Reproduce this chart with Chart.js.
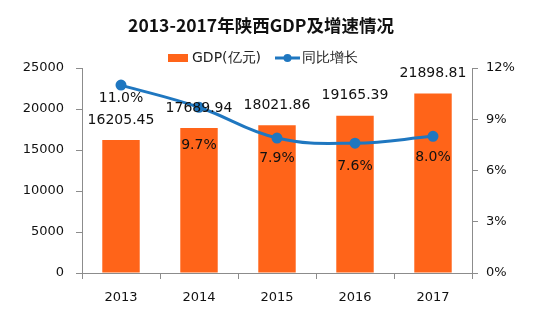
<!DOCTYPE html>
<html>
<head>
<meta charset="utf-8">
<script src="https://cdn.jsdelivr.net/npm/chart.js@4"></script>
<style>
  html, body { margin: 0; padding: 0; background: #fff; }
  #wrap { width: 540px; height: 330px; }
</style>
</head>
<body>
<div id="wrap"><canvas id="myChart" width="540" height="330"></canvas></div>
<script>
// data
const years = ["2013", "2014", "2015", "2016", "2017"];
const gdp = [16205.45, 17689.94, 18021.86, 19165.39, 21898.81];
const growth = [11.0, 9.7, 7.9, 7.6, 8.0];
const leftTicks = [0, 5000, 10000, 15000, 20000, 25000];
const rightTicks = [0, 3, 6, 9, 12];

const orange = '#ff6419';
const blue = '#1f77c0';
const axisGray = '#8c8c8c';
const font = "'DejaVu Sans', sans-serif";

// value labels over bars and under line points
const valueLabels = {
    id: 'valueLabels',
    afterDatasetsDraw(chart, args, opts) {
        const ctx = chart.ctx;
        ctx.save();
        ctx.font = '14px ' + font;
        ctx.fillStyle = '#111';
        ctx.textAlign = 'center';
        ctx.textBaseline = 'middle';
        chart.getDatasetMeta(0).data.forEach((bar, i) => {
            ctx.fillText(gdp[i].toFixed(2), bar.x, bar.y - 20);
        });
        chart.getDatasetMeta(1).data.forEach((pt, i) => {
            ctx.fillText(growth[i].toFixed(1) + '%', pt.x, pt.y + opts.lineOffsets[i]);
        });
        ctx.restore();
    }
};

// legend drawn by hand so it can sit right above the plot
const simpleLegend = {
    id: 'simpleLegend',
    afterDraw(chart, args, opts) {
        const ctx = chart.ctx;
        const ds = chart.data.datasets;
        const y = opts.y;
        let x = opts.x;
        ctx.save();
        ctx.font = '14px ' + font;
        ctx.textBaseline = 'middle';
        ctx.textAlign = 'left';
        // bar item
        ctx.fillStyle = ds[0].backgroundColor;
        ctx.fillRect(x, y - 4, 20, 8);
        ctx.fillStyle = '#222';
        ctx.fillText(ds[0].label, x + 24, y);
        x += 24 + ctx.measureText(ds[0].label).width + 14;
        // line item
        ctx.strokeStyle = ds[1].borderColor;
        ctx.lineWidth = 3;
        ctx.beginPath(); ctx.moveTo(x, y); ctx.lineTo(x + 25, y); ctx.stroke();
        ctx.fillStyle = ds[1].borderColor;
        ctx.beginPath(); ctx.arc(x + 12.5, y, 4, 0, Math.PI * 2); ctx.fill();
        ctx.fillStyle = '#222';
        ctx.fillText(ds[1].label, x + 27, y);
        ctx.restore();
    }
};

const ctx = document.getElementById('myChart').getContext('2d');
const myChart = new Chart(ctx, {
    type: 'bar',
    data: {
        labels: years,
        datasets: [
            {
                type: 'bar',
                label: 'GDP(亿元)',
                data: gdp,
                backgroundColor: orange,
                yAxisID: 'y',
                barPercentage: 0.48,
                categoryPercentage: 1,
                order: 1
            },
            {
                type: 'line',
                label: '同比增长',
                data: growth,
                borderColor: blue,
                backgroundColor: blue,
                borderWidth: 3,
                pointRadius: 4,
                pointHoverRadius: 4,
                tension: 0.4,
                yAxisID: 'y1',
                order: 0
            }
        ]
    },
    options: {
        responsive: false,
        animation: false,
        // right padding nudges the centred title left like the original
        layout: { padding: { top: 0, bottom: 2, right: 18 } },
        plugins: {
            title: {
                display: true,
                text: '2013-2017年陕西GDP及增速情况',
                color: '#111',
                font: { family: "'Noto Sans CJK SC', sans-serif", size: 17.5, weight: 'bold' },
                padding: { top: 15, bottom: 32 }
            },
            legend: { display: false },
            tooltip: { enabled: false },
            valueLabels: { lineOffsets: [13, 38, 20, 23, 21] },
            simpleLegend: { x: 168, y: 58 }
        },
        scales: {
            x: {
                grid: { drawOnChartArea: false, color: axisGray, tickLength: 6, offset: true },
                border: { color: axisGray, width: 1 },
                ticks: { color: '#111', font: { family: font, size: 13 }, padding: 11 },
                afterFit: (axis) => { axis.height = 55; }
            },
            y: {
                position: 'left',
                min: 0,
                max: 25000,
                afterBuildTicks: (axis) => { axis.ticks = leftTicks.map(v => ({ value: v })); },
                grid: { drawOnChartArea: false, color: axisGray, tickLength: 6 },
                border: { color: axisGray, width: 1 },
                ticks: { color: '#111', font: { family: font, size: 13 }, padding: 12, callback: (v) => String(v) },
                afterFit: (axis) => { axis.width = 82; }
            },
            y1: {
                position: 'right',
                min: 0,
                max: 12,
                afterBuildTicks: (axis) => { axis.ticks = rightTicks.map(v => ({ value: v })); },
                grid: { drawOnChartArea: false, color: axisGray, tickLength: 6 },
                border: { color: axisGray, width: 1 },
                ticks: { color: '#111', font: { family: font, size: 13 }, padding: 8, callback: (v) => v + '%' },
                afterFit: (axis) => { axis.width = 50; }
            }
        }
    },
    plugins: [valueLabels, simpleLegend]
});
</script>
</body>
</html>
